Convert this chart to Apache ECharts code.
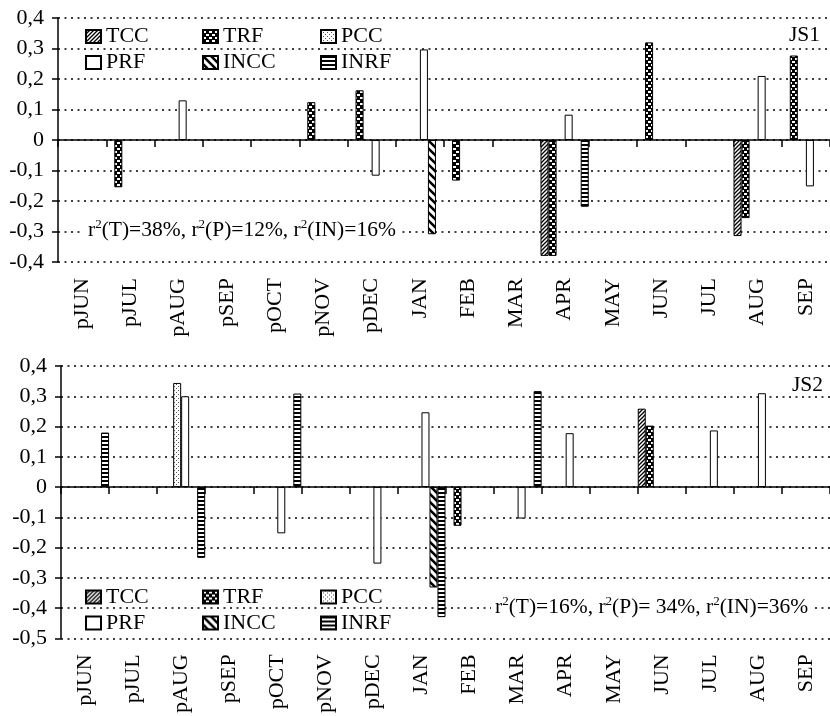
<!DOCTYPE html>
<html><head><meta charset="utf-8">
<script src="https://cdn.jsdelivr.net/npm/echarts@6/dist/echarts.min.js"></script>
<style>html,body{margin:0;padding:0;background:#fff}#c{width:830px;height:716px}</style>
</head><body><div id="c"></div>
<script>
const categories = ['pJUN','pJUL','pAUG','pSEP','pOCT','pNOV','pDEC','JAN','FEB','MAR','APR','MAY','JUN','JUL','AUG','SEP'];
const seriesNames = ['TCC','TRF','PCC','PRF','INCC','INRF'];
const n = null;
// JS1 (top panel)
const js1TCC  = [n,n,n,n,n,n,n,n,n,n,-0.38,n,n,n,-0.315,n];
const js1TRF  = [n,-0.155,n,n,n,0.124,0.163,n,-0.133,n,-0.38,n,0.32,n,-0.256,0.277];
const js1PCC  = [n,n,n,n,n,n,n,n,n,n,n,n,n,n,n,n];
const js1PRF  = [n,n,0.13,n,n,n,-0.117,0.297,n,n,0.083,n,n,n,0.21,-0.152];
const js1INCC = [n,n,n,n,n,n,n,-0.309,n,n,n,n,n,n,n,n];
const js1INRF = [n,n,n,n,n,n,n,n,n,n,-0.219,n,n,n,n,n];
// JS2 (bottom panel)
const js2TCC  = [n,n,n,n,n,n,n,n,n,n,n,n,0.259,n,n,n];
const js2TRF  = [n,n,n,n,n,n,n,n,-0.128,n,n,n,0.203,n,n,n];
const js2PCC  = [n,n,0.344,n,n,n,n,n,n,n,n,n,n,n,n,n];
const js2PRF  = [n,n,0.30,n,-0.153,n,-0.253,0.247,n,-0.104,0.178,n,n,0.187,0.31,n];
const js2INCC = [n,n,n,n,n,n,n,-0.332,n,n,n,n,n,n,n,n];
const js2INRF = [0.18,n,-0.234,n,0.309,n,n,-0.43,n,0.317,n,n,n,n,n,n];
const y1Range = [-0.4, 0.4];
const y2Range = [-0.5, 0.4];
const yStep = 0.1;
const panelLabels = ['JS1','JS2'];
const notes = ['r{s|2}(T)=38%, r{s|2}(P)=12%, r{s|2}(IN)=16%', 'r{s|2}(T)=16%, r{s|2}(P)= 34%, r{s|2}(IN)=36%'];
// legend columns (two rows each)
const legendColumns = [['TCC','PRF'], ['TRF','INCC'], ['PCC','INRF']];

const FONT = '"Liberation Serif", "Times New Roman", serif';
const FS = 22;

function pat(w, h, draw) {
  const c = document.createElement('canvas');
  c.width = w; c.height = h;
  const g = c.getContext('2d');
  g.fillStyle = '#fff'; g.fillRect(0, 0, w, h);
  draw(g, w, h);
  return { image: c, repeat: 'repeat' };
}
const patterns = {
  TCC: pat(4, 4, g => { g.strokeStyle = '#000'; g.lineWidth = 1.3; g.beginPath();
    g.moveTo(-1, 5); g.lineTo(5, -1); g.moveTo(-1, 1); g.lineTo(1, -1); g.moveTo(3, 5); g.lineTo(5, 3); g.stroke(); }),
  TRF: pat(6, 6, g => { g.fillStyle = '#000'; g.fillRect(0, 0, 6, 6); g.fillStyle = '#fff';
    g.fillRect(0, 1, 3, 2); g.fillRect(3, 4, 3, 2); }),
  PCC: pat(4, 4, g => { g.fillStyle = '#555'; g.fillRect(0, 0, 1, 1); g.fillRect(2, 2, 1, 1); }),
  PRF: '#ffffff',
  INCC: pat(8, 8, g => { g.strokeStyle = '#000'; g.lineWidth = 2.6; g.beginPath();
    g.moveTo(-2, -2); g.lineTo(10, 10); g.moveTo(-2, 6); g.lineTo(2, 10); g.moveTo(6, -2); g.lineTo(10, 2); g.stroke(); }),
  INRF: pat(4, 4, g => { g.fillStyle = '#000'; g.fillRect(0, 0, 4, 2); })
};

const fmt = v => { const r = Math.round(v * 10) / 10; return r === 0 ? '0' : r.toFixed(1).replace('.', ','); };

function xAxes(gi) {
  return [
    { gridIndex: gi, type: 'category', data: categories,
      axisLine: { onZero: true, lineStyle: { color: '#000', width: 1.5 } },
      axisTick: { show: true, interval: 0, length: 7, lineStyle: { color: '#000', width: 1.5 } },
      axisLabel: { show: false }, splitLine: { show: false } },
    { gridIndex: gi, type: 'category', data: categories, position: 'bottom',
      axisLine: { show: false, onZero: false }, axisTick: { show: false },
      axisLabel: { interval: 0, rotate: 90, margin: 16, fontFamily: FONT, fontSize: FS, color: '#000' } }
  ];
}
function yAxis(gi, range) {
  return { gridIndex: gi, type: 'value', min: range[0], max: range[1], interval: yStep,
    axisLine: { show: true, lineStyle: { color: '#000', width: 1.5 } },
    axisTick: { show: true, length: 6, lineStyle: { color: '#000', width: 1.5 } },
    axisLabel: { formatter: fmt, margin: 14, fontFamily: FONT, fontSize: FS, color: '#000' },
    splitLine: { show: true, lineStyle: { color: '#000', width: 1.5, type: [2, 4.5] } } };
}
function bars(gi, datas) {
  return seriesNames.map((name, i) => ({
    name, type: 'bar', xAxisIndex: gi * 2, yAxisIndex: gi, data: datas[i],
    barGap: '0%', barCategoryGap: '0%',
    itemStyle: { color: patterns[name], borderColor: '#000', borderWidth: 1 },
    emphasis: { disabled: true }
  }));
}
const colLeft = [85, 202, 320];
function legends(top) {
  return legendColumns.map((names, ci) => ({
    data: names, left: colLeft[ci], top, orient: 'vertical', padding: 0,
    icon: 'rect', itemWidth: 15, itemHeight: 13, itemGap: 4, selectedMode: false,
    textStyle: { fontFamily: FONT, fontSize: FS, color: '#000' } }));
}
function txt(x, y, text, bg) {
  return { type: 'text', x, y, z: 100,
    style: { text, fill: '#000', fontFamily: FONT, fontSize: 21.5, align: 'left', verticalAlign: 'middle',
      lineHeight: 24,
      backgroundColor: bg ? '#fff' : 'transparent', padding: bg ? [0, 4] : 0,
      rich: { s: { fontSize: 13, lineHeight: 13, verticalAlign: 'top', fontFamily: FONT, fill: '#000' } } } };
}

const chart = echarts.init(document.getElementById('c'), null, { renderer: 'canvas' });
chart.setOption({
  backgroundColor: '#fff',
  animation: false,
  grid: [ { left: 58, top: 18, right: -5, height: 244 }, { left: 61, top: 366, right: -5, height: 275 } ],
  xAxis: [...xAxes(0), ...xAxes(1)],
  yAxis: [yAxis(0, y1Range), yAxis(1, y2Range)],
  legend: [...legends(25.5), ...legends(586)],
  series: [
    ...bars(0, [js1TCC, js1TRF, js1PCC, js1PRF, js1INCC, js1INRF]),
    ...bars(1, [js2TCC, js2TRF, js2PCC, js2PRF, js2INCC, js2INRF])
  ],
  graphic: [
    txt(789, 35, panelLabels[0], false),
    txt(792, 385, panelLabels[1], false),
    txt(84, 230, notes[0], true),
    txt(491, 607, notes[1], true)
  ]
});
</script></body></html>
